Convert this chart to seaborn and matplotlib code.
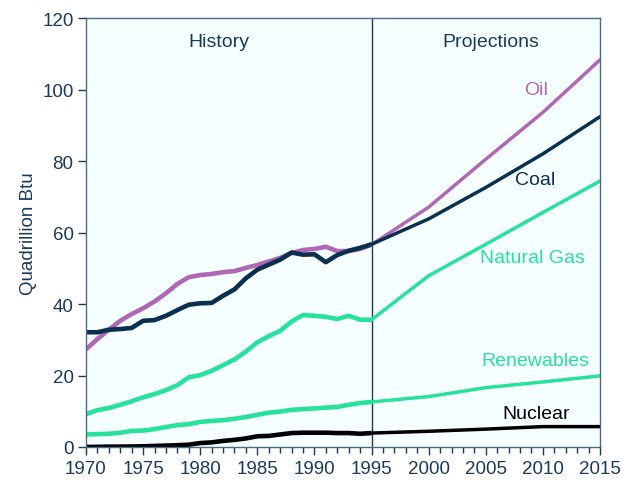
import numpy as np
import pandas as pd
import matplotlib
matplotlib.use("Agg")
import matplotlib.pyplot as plt
import seaborn as sns
from matplotlib.ticker import MultipleLocator

sns.set_theme(style="white")
plt.rcParams['font.family'] = ['Liberation Sans', 'DejaVu Sans']

hist_years = list(range(1970, 1996))
proj_years = [1995, 2000, 2005, 2010, 2015]

oil_hist = [27.3, 30.2, 32.8, 35.3, 37.2, 38.8, 40.7, 43.0, 45.6, 47.5, 48.1, 48.4, 48.9,
            49.2, 50.1, 50.9, 51.9, 52.9, 54.3, 55.1, 55.4, 56.0, 54.8, 54.8, 55.4, 56.6]
coal_hist = [32.1, 32.1, 32.8, 33.0, 33.3, 35.3, 35.5, 36.7, 38.3, 39.8, 40.2, 40.3, 42.3,
             44.1, 47.2, 49.6, 51.0, 52.4, 54.4, 53.8, 53.9, 51.7, 53.7, 54.9, 55.7, 56.7]
gas_hist = [9.2, 10.3, 10.9, 11.8, 12.8, 13.9, 14.8, 15.9, 17.3, 19.5, 20.1, 21.3, 22.9,
            24.5, 26.7, 29.3, 31.0, 32.5, 35.1, 36.9, 36.7, 36.4, 35.8, 36.7, 35.6, 35.6]
ren_hist = [3.5, 3.6, 3.7, 4.0, 4.5, 4.6, 5.0, 5.6, 6.1, 6.4, 7.0, 7.3, 7.5,
            7.9, 8.4, 9.0, 9.6, 9.9, 10.4, 10.6, 10.8, 11.0, 11.2, 11.8, 12.3, 12.6]
nuc_hist = [0.0, 0.05, 0.1, 0.1, 0.15, 0.2, 0.3, 0.4, 0.5, 0.65, 1.1, 1.3, 1.7,
            2.0, 2.4, 3.0, 3.1, 3.5, 3.9, 4.0, 4.0, 4.0, 3.9, 3.9, 3.7, 3.9]

oil_proj = [56.6, 67.1, 80.5, 93.6, 108.3]
coal_proj = [56.7, 63.8, 72.6, 82.0, 92.4]
gas_proj = [35.6, 47.9, 56.7, 65.6, 74.4]
ren_proj = [12.6, 14.1, 16.6, 18.2, 19.9]
nuc_proj = [3.9, 4.4, 5.0, 5.7, 5.7]

series = ["Oil", "Coal", "Natural Gas", "Renewables", "Nuclear"]
colors = {"Oil": "#B068B4", "Coal": "#0B2F4F", "Natural Gas": "#28E29C",
          "Renewables": "#28E29C", "Nuclear": "#000000"}
hist_vals = [oil_hist, coal_hist, gas_hist, ren_hist, nuc_hist]
proj_vals = [oil_proj, coal_proj, gas_proj, ren_proj, nuc_proj]

hist_df = pd.concat([pd.DataFrame({"year": hist_years, "value": v, "fuel": s})
                     for s, v in zip(series, hist_vals)])
proj_df = pd.concat([pd.DataFrame({"year": proj_years, "value": v, "fuel": s})
                     for s, v in zip(series, proj_vals)])

navy = "#1A3A5C"
fig = plt.figure(figsize=(6.35, 4.85), dpi=100)
ax = fig.add_axes([86/635, 1-448/485, (600-86)/635, (448-19)/485])
ax.set_facecolor("#F5FFFF")

sns.lineplot(data=hist_df, x="year", y="value", hue="fuel", palette=colors,
             linewidth=3.3, legend=False, ax=ax, solid_capstyle="butt")
sns.lineplot(data=proj_df, x="year", y="value", hue="fuel", palette=colors,
             linewidth=2.5, legend=False, ax=ax)

ax.axvline(1995, color=navy, linewidth=1.0, zorder=1)

ax.set_xlim(1970, 2015)
ax.set_ylim(0, 120)
ax.xaxis.set_major_locator(MultipleLocator(5))
ax.xaxis.set_minor_locator(MultipleLocator(1))
ax.yaxis.set_major_locator(MultipleLocator(20))
ax.tick_params(axis="both", which="major", direction="out", length=6, width=1,
               color=navy, labelcolor=navy, labelsize=13.5, pad=3)
ax.tick_params(axis="x", which="minor", direction="out", length=4, width=1,
               color=navy, bottom=True)
ax.tick_params(axis="x", which="major", bottom=True)
ax.tick_params(axis="y", which="major", left=True)
ax.set_xlabel("")
ax.set_ylabel("Quadrillion Btu", color=navy, fontsize=13.5, labelpad=4)
for sp in ax.spines.values():
    sp.set_color("#4A6A8A")
    sp.set_linewidth(1.0)

fs = 14
ax.text(1981.6, 113.3, "History", color=navy, fontsize=fs, ha="center", va="center")
ax.text(2005.4, 113.3, "Projections", color=navy, fontsize=fs, ha="center", va="center")
ax.text(2009.4, 99.9, "Oil", color=colors["Oil"], fontsize=fs, ha="center", va="center")
ax.text(2009.3, 74.7, "Coal", color=colors["Coal"], fontsize=fs, ha="center", va="center")
ax.text(2009.05, 52.9, "Natural Gas", color=colors["Natural Gas"], fontsize=fs, ha="center", va="center")
ax.text(2009.3, 24.1, "Renewables", color=colors["Renewables"], fontsize=fs, ha="center", va="center")
ax.text(2009.4, 9.5, "Nuclear", color="#000000", fontsize=fs, ha="center", va="center")

fig.savefig("out.png", dpi=100)
